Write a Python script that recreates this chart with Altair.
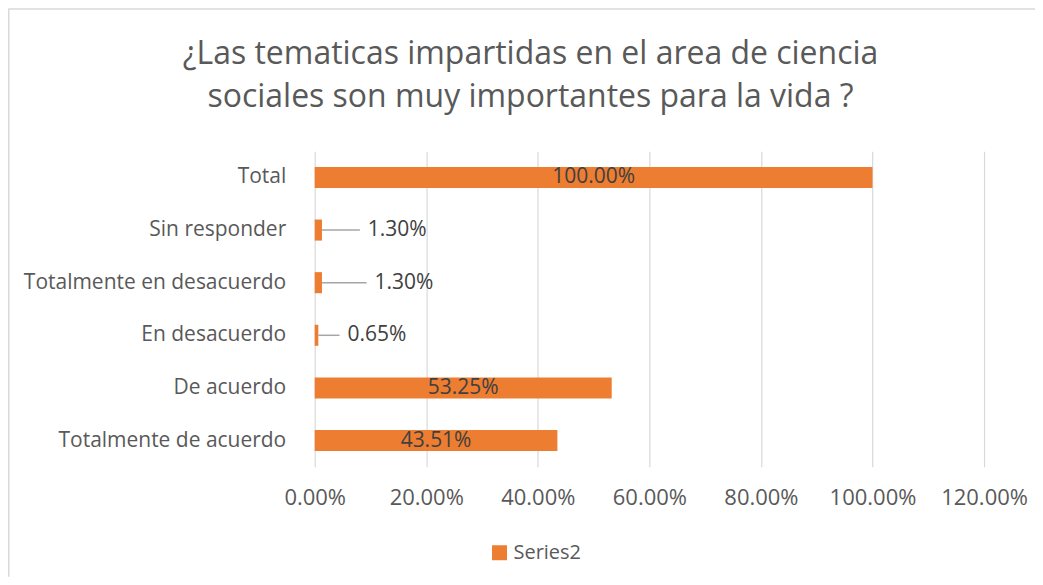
import altair as alt
import pandas as pd

categories = ["Total", "Sin responder", "Totalmente en desacuerdo",
              "En desacuerdo", "De acuerdo", "Totalmente de acuerdo"]
values = [1.0, 0.013, 0.013, 0.0065, 0.5325, 0.4351]
series_name = "Series2"
x_ticks = [0, 0.2, 0.4, 0.6, 0.8, 1.0, 1.2]
title_lines = ["¿Las tematicas impartidas en el area de ciencia",
               "sociales son muy importantes para la vida ?"]

# leader line lengths (in axis units) for small bars' outside labels
leader_len = {"Sin responder": 0.068, "Totalmente en desacuerdo": 0.080, "En desacuerdo": 0.038}

df = pd.DataFrame({"cat": categories, "val": values, "series": series_name})
df["lead"] = df["cat"].map(leader_len).fillna(0.0)

FONT = "Open Sans"
GRAY = "#595959"
ORANGE = "#ED7D31"

W, H = 670, 316
PAD_L, PAD_T, PAD_R, PAD_B = 307, 143, 51, 110

y_enc = alt.Y("cat:N", sort=categories, title=None,
              scale=alt.Scale(paddingInner=0.6, paddingOuter=0.3),
              axis=alt.Axis(labelFont=FONT, labelFontSize=21, labelColor=GRAY,
                            labelPadding=29, labelLimit=400, ticks=False,
                            domain=False, grid=False))
x_scale = alt.Scale(domain=[0, 1.2], nice=False)

base = alt.Chart(df)

bars = base.mark_bar().encode(
    x=alt.X("val:Q", scale=x_scale, title=None,
            axis=alt.Axis(values=x_ticks, format=".2%", labelFont=FONT, labelFontSize=22,
                          labelColor=GRAY, labelPadding=21, labelFlush=False,
                          ticks=False, domain=False,
                          grid=True, gridColor="#d9d9d9", gridWidth=1.2)),
    y=y_enc,
    color=alt.Color("series:N", title=None,
                    scale=alt.Scale(domain=[series_name], range=[ORANGE]),
                    legend=alt.Legend(orient="none", legendX=175, legendY=392,
                                      symbolType="square", symbolSize=225,
                                      symbolStrokeWidth=0,
                                      labelFont=FONT, labelFontSize=20, labelColor=GRAY,
                                      labelOffset=4, padding=0)),
)

small = base.transform_filter("datum.val < 0.1").transform_calculate(
    end="datum.val + datum.lead")

leaders = small.mark_rule(color="#a6a6a6", strokeWidth=1.5).encode(
    x=alt.X("val:Q", scale=x_scale), x2="end:Q", y=y_enc)

out_labels = small.mark_text(align="left", baseline="middle", dx=8, font=FONT,
                             fontSize=21, color="#404040").encode(
    x=alt.X("end:Q", scale=x_scale), y=y_enc, text=alt.Text("val:Q", format=".2%"))

in_labels = base.transform_filter("datum.val >= 0.1").transform_calculate(
    mid="datum.val / 2").mark_text(align="center", baseline="middle", font=FONT,
                                   fontSize=21, color="#404040").encode(
    x=alt.X("mid:Q", scale=x_scale), y=y_enc, text=alt.Text("val:Q", format=".2%"))

one = pd.DataFrame({"k": [0]})
border_top = alt.Chart(one).mark_rule(color="#d9d9d9", strokeWidth=1.5).encode(
    x=alt.value(-PAD_L + 0.5), x2=alt.value(W + PAD_R), y=alt.value(-PAD_T + 0.75))
border_left = alt.Chart(one).mark_rule(color="#d9d9d9", strokeWidth=1.5).encode(
    x=alt.value(-PAD_L + 0.75), y=alt.value(-PAD_T + 0.5), y2=alt.value(H + PAD_B))

title_layers = []
title_y = [-87, -44]
for line, ty in zip(title_lines, title_y):
    title_layers.append(
        alt.Chart(pd.DataFrame({"t": [line]})).mark_text(
            font=FONT, fontSize=32, color=GRAY, align="center", baseline="alphabetic"
        ).encode(text="t:N", x=alt.value(216), y=alt.value(ty))
    )

chart = alt.layer(bars, leaders, out_labels, in_labels, border_top, border_left,
                  *title_layers).properties(
    width=W, height=H,
    autosize=alt.AutoSizeParams(type="none"),
    padding={"left": PAD_L, "top": PAD_T, "right": PAD_R, "bottom": PAD_B},
).configure(background="white").configure_view(stroke=None)

chart.save("out.html", embed_options={"renderer": "svg", "actions": False})
